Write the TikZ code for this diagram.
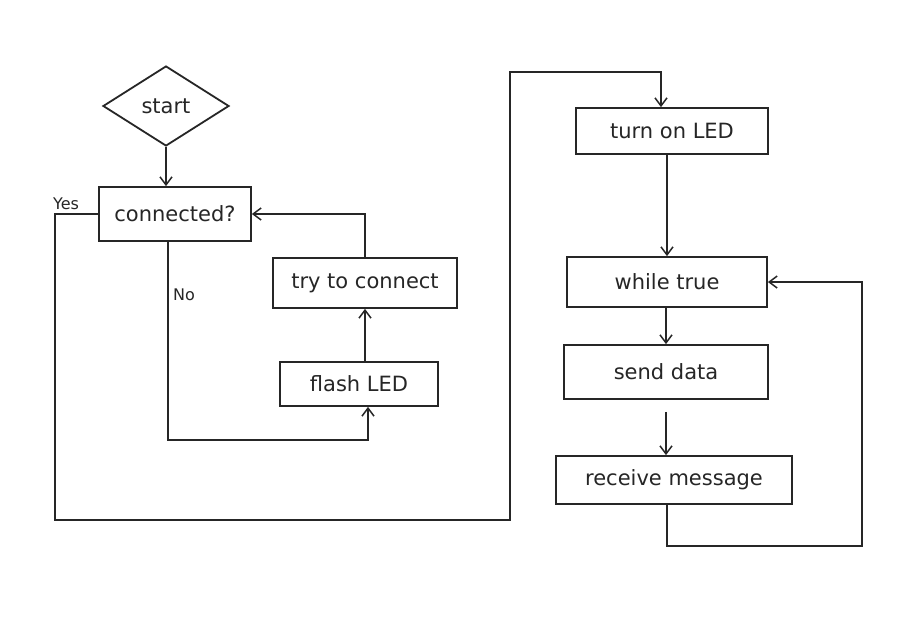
\documentclass[tikz,border=0pt]{standalone}
\usepackage{fontspec}
\setmainfont{DejaVu Sans}
\usetikzlibrary{shapes.geometric,arrows.meta}
\begin{document}
\begin{tikzpicture}[x=1pt,y=-1pt,
  line width=1.8pt, draw=black!85,
  every node/.style={font=\fontsize{21}{23}\selectfont, text=black!85},
  stepbox/.style={draw, rectangle, inner sep=0pt, line width=1.8pt},
  startbox/.style={draw, diamond, inner sep=0pt, minimum width=126pt, minimum height=80pt, line width=1.8pt},
  lbl/.style={font=\fontsize{16}{18}\selectfont},
  arr/.style={line width=1.8pt, -{Straight Barb[length=8pt,width=12pt,line width=1.5pt]}}]
\useasboundingbox[fill=white] (0,0) rectangle (918,627);

% left flow
\node[startbox] (start) at (166,106) {start};
\node[stepbox, minimum width=152pt, minimum height=54pt] (conn) at (175,214) {connected?};
\node[stepbox, minimum width=184pt, minimum height=50pt] (try) at (365,283) {try to connect};
\node[stepbox, minimum width=158pt, minimum height=44pt] (flash) at (359,384) {flash LED};
\node[lbl] (yes) at (66,204) {Yes};
\node[lbl] (no) at (184,295) {No};

% right flow
\node[stepbox, minimum width=192pt, minimum height=46pt] (turn) at (672,131) {turn on LED};
\node[stepbox, minimum width=200pt, minimum height=50pt] (while) at (667,282) {while true};
\node[stepbox, minimum width=204pt, minimum height=54pt] (send) at (666,372) {send data};
\node[stepbox, minimum width=236pt, minimum height=48pt] (recv) at (674,480) {receive message};

% helper coordinates
\coordinate (ya) at (55,520);
\coordinate (yb) at (510,72);
\coordinate (yc) at (661,0);
\coordinate (nb) at (168,440);
\coordinate (nx) at (368,0);
\coordinate (la) at (667,546);
\coordinate (lb) at (862,546);

% connectors
\draw[arr] (start.south) -- (start.south |- conn.north);
\draw[arr] (conn.west) -| (ya) -| (yb) -| (turn.north -| yc);
\draw[arr] (nb |- conn.south) -- (nb) -| (flash.south -| nx);
\draw[arr] (flash.north -| try.south) -- (try.south);
\draw[arr] (try.north) |- (conn.east);
\draw[arr] (turn.south -| while.north) -- (while.north);
\draw[arr] (while.south -| send.north) -- (send.north);
\draw[arr, shorten <=12pt] (send.south) -- (send.south |- recv.north);
\draw[arr] (la |- recv.south) -- (la) -- (lb) |- (while.east);
\end{tikzpicture}
\end{document}
